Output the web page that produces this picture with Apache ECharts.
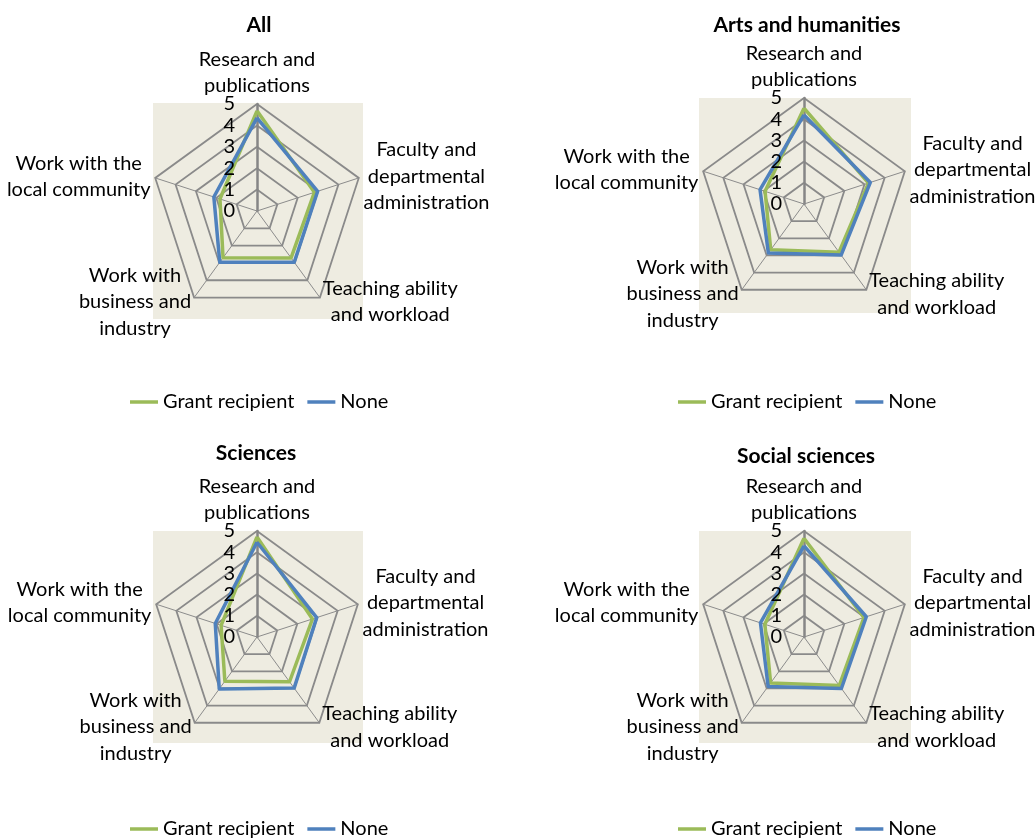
<!DOCTYPE html>
<head>
    <meta charset="utf-8"/>
    <style>
        html,body { height:100%; width:100%; margin:0; padding:0; background:#fff; }
    </style>
</head>
<body>

<div id="radar" style="width: 1036px;height:839px;"></div>

<script src="https://cdn.jsdelivr.net/npm/echarts@6.0.0/dist/echarts.min.js"></script>
<script type="text/javascript">

 // indicator order = counter-clockwise from the top (how echarts lays radar axes out)
 var categories = ['Research and\npublications', 'Work with the\nlocal community', 'Work with\nbusiness and\nindustry', 'Teaching ability\nand workload', 'Faculty and\ndepartmental\nadministration'];
 var panelTitles = ['All', 'Arts and humanities', 'Sciences', 'Social sciences'];
 var seriesNames = ['Grant recipient', 'None'];
 var tickLabels = ['0', '1', '2', '3', '4', '5'];

 var allGrant    = [4.68, 1.82, 2.70, 2.71, 2.82];
 var allNone     = [4.35, 2.12, 2.96, 2.96, 2.98];
 var artsGrant   = [4.52, 1.93, 2.67, 2.81, 3.20];
 var artsNone    = [4.20, 2.18, 2.86, 2.98, 3.29];
 var sciGrant    = [4.72, 1.78, 2.58, 2.61, 2.75];
 var sciNone     = [4.47, 2.07, 3.03, 2.98, 2.96];
 var socialGrant = [4.66, 1.94, 2.68, 2.83, 2.97];
 var socialNone  = [4.30, 2.16, 2.88, 3.00, 3.09];

 var panelData = [[allGrant, allNone], [artsGrant, artsNone], [sciGrant, sciNone], [socialGrant, socialNone]];

 var colors = ['#9BBB59', '#4F81BD'];
 var FONT = 'Lato, "Liberation Sans", sans-serif';

 // panel layout: radar centre, radius, beige plot area, title and legend spots
 var panels = [
    { c: [257, 211], r: 107, bg: [153, 103, 210, 216], title: [254, 10], legend: [125, 387] },
    { c: [804, 204], r: 106, bg: [699, 98, 212, 215], title: [802, 10], legend: [673, 387] },
    { c: [257, 637], r: 106, bg: [153, 531, 210, 212], title: [251, 438], legend: [125, 814] },
    { c: [804, 637], r: 106, bg: [699, 531, 212, 212], title: [801, 441], legend: [673, 814] }
 ];

 function richName(name) {
    return name.split('\n').map(function (s) { return '{c|' + s + '}'; }).join('\n');
 }

 var radars = [], series = [], titles = [], legends = [], graphics = [];

 panels.forEach(function (p, i) {
    var indicator = categories.map(function (name, k) {
        var ind = { name: name, min: 0, max: 5 };
        if (k === 0) {
            ind.axisLine = { lineStyle: { width: 2.5, color: '#868686' } };
        }
        return ind;
    });

    // grid + names
    radars.push({
        center: p.c,
        radius: p.r,
        startAngle: 90,
        shape: 'polygon',
        splitNumber: 5,
        indicator: indicator,
        nameGap: 5,
        axisName: {
            color: '#000',
            formatter: richName,
            rich: { c: { align: 'center', fontSize: 20, lineHeight: 26.5, fontFamily: FONT, color: '#000' } }
        },
        axisLine: { show: true, lineStyle: { color: '#8c8c8c', width: 1 } },
        splitLine: { show: true, lineStyle: { color: '#8a8a8a', width: 1.8 } },
        splitArea: { show: false },
        axisTick: { show: false },
        axisLabel: { show: false }
    });
 });

 // second radar per panel, only for tick labels so they sit above the lines
 panels.forEach(function (p, i) {
    var indicator = categories.map(function (name, k) {
        return { name: '', min: 0, max: 5, axisLabel: { show: k === 0 } };
    });
    radars.push({
        z: 10,
        center: p.c,
        radius: p.r,
        startAngle: 90,
        shape: 'polygon',
        splitNumber: 5,
        indicator: indicator,
        axisName: { show: false },
        axisLine: { show: false },
        splitLine: { show: false },
        splitArea: { show: false },
        axisTick: { show: false },
        axisLabel: {
            show: false,
            margin: 22,
            color: '#000',
            fontSize: 20,
            fontFamily: FONT,
            formatter: function (v) { return tickLabels[Math.round(v)]; }
        }
    });
 });

 panels.forEach(function (p, i) {
    seriesNames.forEach(function (nm, j) {
        series.push({
            type: 'radar',
            radarIndex: i,
            name: nm,
            symbol: 'none',
            z: 2 + j,
            itemStyle: { color: colors[j] },
            lineStyle: { color: colors[j], width: 3.5 },
            data: [{ value: panelData[i][j], name: nm }]
        });
    });

    titles.push({
        text: panelTitles[i],
        left: p.title[0],
        top: p.title[1],
        textAlign: 'center',
        textStyle: { fontSize: 21, fontWeight: 'bold', fontFamily: FONT, color: '#000' }
    });

    legends.push({
        data: seriesNames,
        left: p.legend[0],
        top: p.legend[1],
        icon: 'rect',
        itemWidth: 28,
        itemHeight: 3.5,
        itemGap: 13,
        selectedMode: false,
        textStyle: { fontSize: 20, fontFamily: FONT, color: '#000' }
    });

    graphics.push({
        type: 'rect',
        silent: true,
        z: -10,
        shape: { x: p.bg[0], y: p.bg[1], width: p.bg[2], height: p.bg[3] },
        style: { fill: '#EEECE1' }
    });
 });

 var myChart = echarts.init(document.getElementById('radar'));
 myChart.setOption({
    animation: false,
    backgroundColor: '#fff',
    color: colors,
    title: titles,
    legend: legends,
    graphic: graphics,
    radar: radars,
    series: series
 });

</script>
</body>
